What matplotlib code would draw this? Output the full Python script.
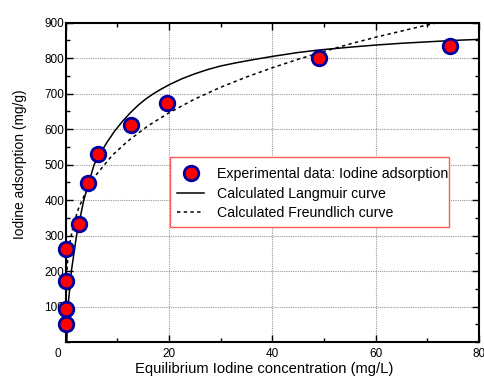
import matplotlib
matplotlib.use("Agg")
import matplotlib.pyplot as plt
from matplotlib.patches import Rectangle
from matplotlib.ticker import MultipleLocator, FuncFormatter

plt.rcParams['font.family'] = ['Liberation Sans', 'DejaVu Sans']

# experimental points (Ce mg/L, qe mg/g)
exp_c = [0.1, 0.15, 0.1, 0.05, 2.6, 4.4, 6.3, 12.7, 19.7, 49.0, 74.4]
exp_q = [50, 92, 173, 261, 333, 447, 530, 613, 675, 800, 834]

# points
lang_c = [0.2, 0.45, 1.1, 2.1, 3.5, 5.5, 6.5, 8, 9.5, 11, 12.5, 14, 15.5, 17, 18.5, 20,
          22.5, 25, 27.5, 30, 33, 36, 40, 45, 49, 55, 60, 65, 70, 75, 80]
lang_q = [0, 100, 200, 300, 400, 500, 527, 563, 595, 622, 646, 667, 685, 700, 713, 725,
          742, 756, 768, 778, 787, 795, 805, 816, 823, 831, 837, 842, 846, 850, 853]

# points
freu_c = [0.02, 0.1, 0.3, 0.7, 1.5, 2.5, 4, 6, 9, 12, 16, 20, 25, 30, 35, 40, 45, 50, 55, 60, 66, 72.5]
freu_q = [108, 164, 218, 271, 331, 377, 426, 473, 526, 566, 610, 646, 685, 718, 747, 773,
          797, 819, 840, 859, 880, 902]

legend_labels = ['Experimental data: Iodine adsorption',
                 'Calculated Langmuir curve',
                 'Calculated Freundlich curve']

fig = plt.figure(figsize=(4.84, 3.77), dpi=100)
ax = fig.add_axes([0.1357, 0.0928, 0.854, 0.847])

ax.plot(exp_c, exp_q, 'o', ms=10.5, mfc='red', mec='#0000a0', mew=2,
        label=legend_labels[0], zorder=4, clip_on=False)
ax.plot(lang_c, lang_q, '-', color='black', lw=1.1, label=legend_labels[1], zorder=3)
ax.plot(freu_c, freu_q, color='black', lw=1.1, ls=(0, (2.2, 2.2)),
        label=legend_labels[2], zorder=3)

ax.set_xlim(0, 80)
ax.set_ylim(0, 900)
ax.xaxis.set_major_locator(MultipleLocator(20))
ax.xaxis.set_minor_locator(MultipleLocator(10))
ax.yaxis.set_minor_locator(MultipleLocator(50))
ax.set_yticks(range(100, 1000, 100))
# "0" on the x axis is drawn separately, slightly left of its tick
ax.xaxis.set_major_formatter(FuncFormatter(lambda v, p: '' if v == 0 else f'{v:.0f}'))
ax.annotate('0', xy=(0, 0), xycoords=('data', 'axes fraction'), xytext=(-5.5, -4),
            textcoords='offset points', ha='center', va='top', fontsize=8.5)
ax.tick_params(which='both', direction='in', top=True, right=True, labelsize=8.5, width=1)
ax.tick_params(which='major', length=5)
ax.tick_params(which='minor', length=3)
ax.tick_params(axis='y', pad=1)
ax.tick_params(axis='x', pad=4)
ax.grid(True, which='major', color='#999999', ls=(0, (1, 1)), lw=0.8)
for s in ax.spines.values():
    s.set_linewidth(1.5)

ax.set_xlabel('Equilibrium Iodine concentration (mg/L)', fontsize=10.6)
ax.set_ylabel('Iodine adsorption (mg/g)', fontsize=9.9)
ax.xaxis.label.set_va('baseline')
ax.xaxis.set_label_coords(0.4814, -0.0984)
ax.yaxis.set_label_coords(-0.0936, 0.558)

leg = ax.legend(loc='upper left', bbox_to_anchor=(0.2686, 0.5477), fontsize=10.2,
                frameon=False, handlelength=1.95, borderpad=0, borderaxespad=0,
                labelspacing=0.4, handletextpad=0.87)
ax.add_patch(Rectangle((0.2524, 0.3603), 0.6756, 0.2187, transform=ax.transAxes,
                       facecolor='white', edgecolor='#ff5a5a', lw=1, zorder=5))
leg.set_zorder(6)

fig.savefig('out.png', dpi=100)
